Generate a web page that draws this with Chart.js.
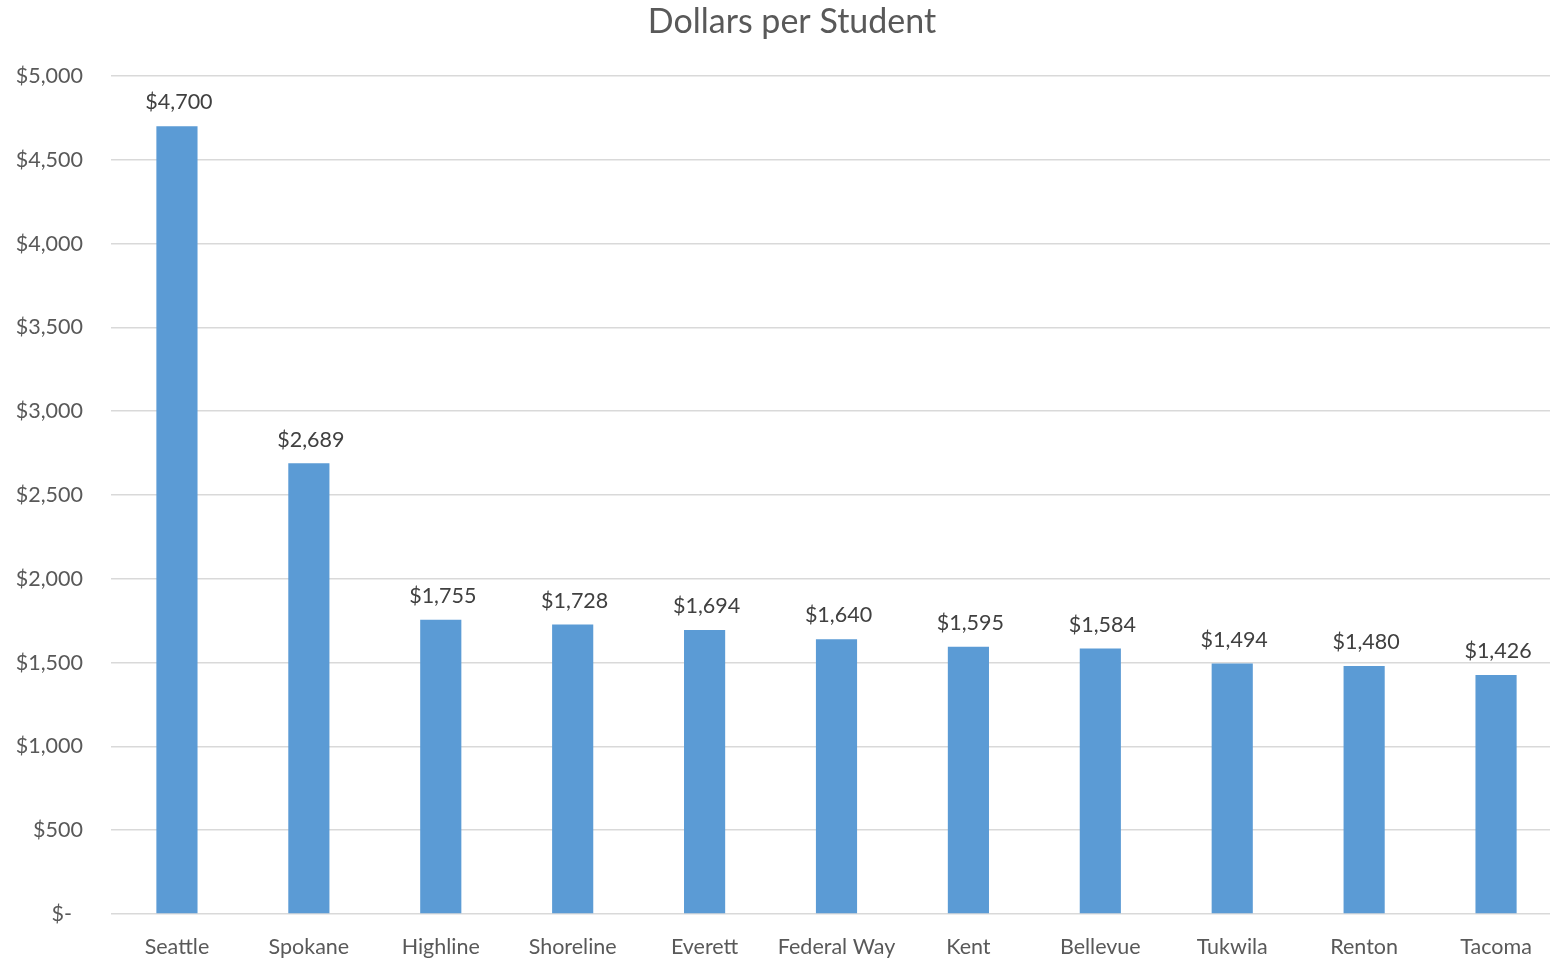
<!DOCTYPE html>
<html>
<head>
<meta charset="utf-8">
<script src="https://cdn.jsdelivr.net/npm/chart.js@4"></script>
<style>
  html, body { margin: 0; padding: 0; background: #fff; overflow: hidden; }
  #wrap { width: 1562px; height: 958px; }
</style>
</head>
<body>
<div id="wrap"><canvas id="chart"></canvas></div>
<script>
const districts = ['Seattle', 'Spokane', 'Highline', 'Shoreline', 'Everett', 'Federal Way', 'Kent', 'Bellevue', 'Tukwila', 'Renton', 'Tacoma'];
const dollarsPerStudent = [4700, 2689, 1755, 1728, 1694, 1640, 1595, 1584, 1494, 1480, 1426];
const chartTitle = 'Dollars per Student';

const FONT = 'Lato, "Open Sans", sans-serif';

function money(v) {
    if (v === 0) return '$-  ';
    return '$' + v.toLocaleString('en-US');
}

// draws the title and the value labels above each bar
const labelsPlugin = {
    id: 'barLabels',
    afterDatasetsDraw(chart) {
        const ctx = chart.ctx;
        ctx.save();
        ctx.fillStyle = '#404040';
        ctx.font = '21.5px ' + FONT;
        ctx.textAlign = 'center';
        ctx.textBaseline = 'bottom';
        chart.getDatasetMeta(0).data.forEach((bar, i) => {
            ctx.fillText(money(dollarsPerStudent[i]), bar.x + 2, bar.y - 13);
        });
        ctx.fillStyle = '#595959';
        ctx.font = '34px ' + FONT;
        ctx.textBaseline = 'middle';
        ctx.fillText(chartTitle, 792, 22);
        ctx.restore();
    }
};

new Chart(document.getElementById('chart'), {
    type: 'bar',
    data: {
        labels: districts,
        datasets: [{
            data: dollarsPerStudent,
            backgroundColor: '#5B9BD5',
            categoryPercentage: 1,
            barPercentage: 0.312
        }]
    },
    options: {
        responsive: true,
        maintainAspectRatio: false,
        animation: false,
        layout: { padding: { top: 76, right: 0, left: 0, bottom: 0 } },
        plugins: {
            legend: { display: false },
            title: { display: false },
            tooltip: { enabled: false }
        },
        scales: {
            x: {
                grid: { display: false },
                border: { display: false },
                ticks: {
                    color: '#595959',
                    font: { family: FONT, size: 21.5 },
                    padding: 12,
                    maxRotation: 0
                },
                afterFit(scale) { scale.height = 44; }
            },
            y: {
                min: 0,
                max: 5000,
                border: { display: false },
                grid: { color: '#D9D9D9', lineWidth: 1.5, drawTicks: false },
                ticks: {
                    stepSize: 500,
                    color: '#595959',
                    font: { family: FONT, size: 21.5 },
                    padding: 28,
                    callback: (v) => money(v)
                },
                afterFit(scale) { scale.width = 111; }
            }
        }
    },
    plugins: [labelsPlugin]
});
</script>
</body>
</html>
